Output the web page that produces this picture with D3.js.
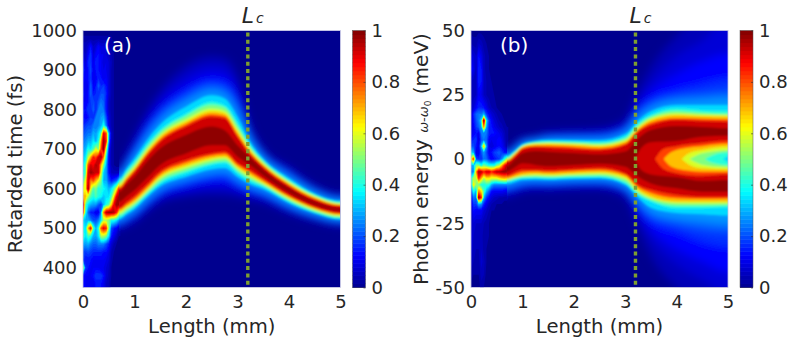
<!DOCTYPE html>
<html lang="en">
<head>
<meta charset="utf-8">
<title>Retarded time and photon energy maps</title>
<script src="https://cdn.jsdelivr.net/npm/d3@7"></script>
<style>
  html, body { margin: 0; padding: 0; background: #fff; }
  text { font-family: "DejaVu Sans", sans-serif; fill: #262626; }
  .axis path, .axis line { display: none; }
  .axis text { font-size: 18px; fill: #262626; }
  .cbar line { display: inline; stroke: #333; stroke-width: .6; }
</style>
</head>
<body>
<script>
// iso-intensity levels, outer edge of the band to its core
var levels = [.03, .06, .1, .15, .2, .25, .3, .375, .45, .55, .625, .75, .875, .97];

// panel (a): band edges in fs for each column, one value per level
var aLengths = [.7, .85, 1, 1.25, 1.5, 2, 2.5, 2.75, 3, 3.25, 3.5, 4, 4.5, 5];
var aUpper = [
  [652,645,640,635,632,629,626,622,617,612,607,603,600,592],
  [693,683,673,666,661,656,652,645,640,634,629,625,621,611],
  [734,720,706,697,690,683,677,668,663,656,651,647,643,630],
  [800,781,763,751,741,732,724,712,707,700,695,690,685,670],
  [849,828,807,793,782,772,762,748,743,736,731,725,719,702],
  [912,887,861,844,831,819,807,790,784,775,769,763,757,736],
  [936,912,888,871,859,847,836,820,812,802,795,788,782,757],
  [932,907,882,865,851,839,828,811,805,796,790,784,778,748],
  [886,861,836,819,805,793,782,765,759,750,744,737,731,710],
  [764,753,742,734,728,723,718,710,705,700,695,691,687,678],
  [703,697,690,686,682,679,676,672,669,664,661,658,655,647],
  [657,650,642,637,634,630,627,622,619,616,613,610,607,601],
  [609,604,599,596,593,591,588,585,583,580,578,575,573,567],
  [587,583,579,576,574,572,570,567,565,562,560,558,556,550]
];
var aLower = [
  [495,503,508,513,516,519,522,527,532,537,542,546,550,567],
  [504,512,519,524,528,532,535,540,544,550,554,559,565,581],
  [513,522,530,536,540,544,548,554,558,563,567,573,580,596],
  [541,550,559,565,570,575,579,585,589,594,598,604,611,628],
  [563,573,584,591,596,601,606,613,618,625,630,636,643,660],
  [578,591,603,612,619,625,630,639,645,652,658,665,672,689],
  [583,599,615,626,634,642,649,660,665,672,677,683,689,710],
  [582,599,616,628,637,645,652,664,669,676,681,687,693,710],
  [578,591,603,612,619,625,630,639,644,650,654,659,664,681],
  [570,580,590,597,602,607,611,618,623,629,634,640,646,659],
  [564,573,581,587,591,595,599,605,608,612,615,620,624,633],
  [537,543,550,554,557,560,563,567,570,574,577,580,583,590],
  [517,522,527,530,532,535,537,540,542,546,548,551,553,559],
  [505,509,513,516,518,520,522,525,527,531,533,536,538,544]
];

// panel (a): the noisy start of the propagation, intensity in percent
var noiseLengths = [0, .05, .1, .15, .2, .25, .3, .35, .4, .45, .5, .55, .6, .65, .7];
var aNoiseTimes = [1000,980,960,940,920,900,880,860,840,820,800,780,760,740,720,700,680,660,640,620,600,580,560,540,520,500,480,460,440,420,400,380,360,340];
var aNoise = [
  [0,0,0,0,0,0,0,0,0,0,0,0,0,0,0],
  [3,3,3,3,3,3,3,3,3,3,3,3,0,0,0],
  [5,5,8,14,6,8,12,8,8,8,5,3,2,0,0],
  [8,6,12,18,8,12,14,10,10,8,6,4,2,1,0],
  [14,8,16,18,10,16,14,12,8,10,8,5,2,1,0],
  [18,10,14,20,10,14,14,12,10,10,8,4,2,1,0],
  [14,12,14,18,10,12,16,14,10,12,8,4,2,1,0],
  [12,10,12,22,12,14,22,16,18,14,8,4,2,1,0],
  [16,10,14,22,14,16,16,20,20,16,8,4,2,1,0],
  [12,12,14,18,20,16,20,24,22,14,6,3,2,1,0],
  [14,14,18,16,22,16,24,24,24,14,6,3,2,1,0],
  [14,12,14,18,16,24,24,28,30,20,8,4,2,1,0],
  [16,18,20,20,24,24,26,30,40,25,10,4,2,1,0],
  [20,22,24,24,30,28,34,45,90,80,30,6,2,1,0],
  [24,26,30,30,36,30,40,70,98,85,25,5,2,1,0],
  [28,30,40,36,45,60,50,80,100,55,15,4,2,1,0],
  [32,36,55,70,85,80,92,97,75,38,12,4,2,1,0],
  [35,45,80,92,88,96,92,70,50,30,12,4,2,1,1],
  [38,45,90,98,95,92,92,60,32,28,14,6,5,5,5],
  [45,60,92,75,80,70,60,50,30,30,20,15,18,22,37],
  [60,60,98,60,45,50,40,42,38,35,30,35,45,60,85],
  [70,70,55,45,40,45,40,38,32,35,35,45,65,90,98],
  [95,45,35,30,28,28,22,18,30,40,45,65,88,98,97],
  [85,40,22,15,15,10,10,25,75,95,98,98,95,85,62],
  [35,30,30,25,20,20,25,35,55,55,50,40,40,35,27],
  [40,35,70,90,45,30,40,80,90,85,50,20,15,12,6],
  [45,35,45,40,30,28,35,55,55,50,35,15,10,6,2],
  [30,28,30,25,22,22,25,25,25,20,15,8,4,2,1],
  [20,18,20,18,16,16,16,16,14,14,10,4,2,1,0],
  [18,14,14,14,12,12,12,12,12,10,8,3,1,0,0],
  [55,18,14,12,12,12,12,10,10,8,6,2,0,0,0],
  [14,12,12,12,14,18,18,18,14,8,5,2,0,0,0],
  [14,12,10,10,10,14,14,14,10,6,4,1,0,0,0],
  [14,12,10,10,10,14,14,14,10,6,4,1,0,0,0]
];

// panel (b): band edges in meV for each column, one value per level
var bLengths = [.7, .85, 1, 1.25, 1.5, 2, 2.5, 3, 3.25, 3.5, 4, 4.5, 5];
var bUpper = [
  [3.8,3.2,2.6,2.2,1.9,1.6,1.3,.9,.5,0,-.4,-.7,-1,-2.7],
  [6,5.4,4.7,4.2,3.9,3.6,3.3,2.8,2.6,2.2,2,1.5,1,-.3],
  [8.5,7.9,7.2,6.8,6.4,6.1,5.8,5.4,5.2,5,4.8,4.3,3.8,2.2],
  [9.1,8.6,8.1,7.8,7.5,7.3,7,6.7,6.4,6,5.7,5.2,4.8,3.1],
  [10.6,9.9,9.1,8.6,8.2,7.8,7.5,7,6.6,6.2,5.8,5.2,4.5,2.8],
  [11.3,10.3,9.4,8.8,8.3,7.9,7.4,6.8,6.4,5.9,5.5,4.8,4,2.3],
  [11.9,10.8,9.7,8.9,8.3,7.8,7.3,6.5,6,5.4,5,4.2,3.5,1.8],
  [16,13.5,12.3,11.5,10.9,10.3,9.7,8.7,8.1,7.4,6.8,6.1,5.4,2.9],
  [27,23,20.5,18.5,17.2,16,15,13.9,13.2,12.4,11.9,11.2,10.6,8],
  [36,30,26,23,21,19.8,18.6,17,16.5,15.8,15.2,14.2,13.2,11.3],
  [48,40,33,26.5,24,22.5,21,19.7,18.7,17.7,17.1,16,15.2,12.8],
  [56,46,38,29,25,23,21,19,18,17.2,16.7,15.7,14.8,12.5],
  [64,54,41,31,26,23.5,21,18.8,17.6,17,16.5,15.5,14.5,12]
];
var bLower = [
  [-15,-13.7,-12.4,-11.6,-10.9,-10.3,-9.7,-8.8,-8.5,-8.1,-7.8,-7.1,-6.5,-4.9],
  [-14,-12.8,-11.6,-10.7,-10.1,-9.5,-9,-8.2,-7.8,-7.3,-7,-6.2,-5.3,-3.3],
  [-12.9,-11.8,-10.7,-9.9,-9.3,-8.7,-8.2,-7.5,-7.1,-6.6,-6.2,-5.3,-4.3,-1.7],
  [-12.2,-11.2,-10.2,-9.3,-8.9,-8.5,-8,-7.3,-6.9,-6.3,-5.8,-5,-4.3,-2.3],
  [-12.3,-11.3,-10.3,-9.6,-9.1,-8.6,-8.2,-7.5,-7.1,-6.5,-6,-5.3,-4.5,-2.8],
  [-11.8,-10.8,-9.9,-9.2,-8.7,-8.3,-7.8,-7.2,-6.7,-6.1,-5.6,-4.8,-4,-2.3],
  [-11.9,-10.8,-9.8,-9.1,-8.6,-8.1,-7.6,-7,-6.5,-5.8,-5.3,-4.4,-3.5,-1.8],
  [-15.5,-13.2,-12.2,-11.5,-11,-10.6,-10.1,-9.5,-8.9,-7.8,-7.1,-6.3,-5.6,-3],
  [-27,-23,-20,-18,-16.8,-15.8,-15,-14,-13.4,-12.6,-12,-11,-10.1,-6.9],
  [-38,-31,-27,-24,-22,-20.5,-19,-16.6,-16,-15.3,-14.7,-13.3,-12,-9.5],
  [-50,-41,-35,-28,-25,-23,-21,-19.2,-18.2,-17.2,-16.6,-15.3,-14,-11.4],
  [-58,-47,-40,-32,-27,-24,-21.5,-19.2,-18.2,-17.3,-16.6,-15.6,-14.7,-12.7],
  [-66,-52,-44,-34,-28,-25,-22,-18.8,-18,-17.2,-16.6,-15.5,-14.7,-12.7]
];

// panel (b): the dip that opens on the axis after the band splits
var holeLevels = [.97, .875, .75, .625, .55, .45, .375];
var holeLengths = [
  [3.2,3.3,3.5,4,4.5,5],
  [3.58,3.75,4,4.5,5],
  [3.75,3.9,4.25,4.5,5],
  [4.1,4.25,4.5,5],
  [4.25,4.4,4.7,5],
  [4.55,4.7,5],
  [4.9,4.97,5]
];
var holeUpper = [[0,4,6.5,7,8.7,9],[0,4,5,6.2,7.1],[0,2.7,4.5,5,5.9],[0,2.3,3.5,4.8],[0,1.6,2.9,3.5],[0,1.5,2.6],[0,.9,1.3]];
var holeLower = [[0,-4,-6,-7,-8.5,-8.2],[0,-4,-5.5,-6.5,-5.9],[0,-3,-4.6,-5,-5],[0,-2.3,-3.6,-4],[0,-1.6,-2.9,-3.2],[0,-1.5,-2.4],[0,-.9,-1.3]];

// panel (b): noisy start, intensity in percent
var bNoiseEnergies = [50,45,40,35,30,25,20,17.5,15,12.5,10,7.5,5,2.5,0,-2.5,-5,-7.5,-10,-12.5,-15,-17.5,-20,-25,-30,-35,-40,-45,-50];
var bNoise = [
  [1,1,1,1,1,1,0,0,0,0,0,0,0,0,0],
  [4,3,3,6,5,3,2,1,0,0,0,0,0,0,0],
  [10,8,6,14,10,5,3,2,1,0,0,0,0,0,0],
  [14,10,5,16,14,5,3,2,1,1,0,0,0,0,0],
  [5,5,5,16,14,6,4,2,2,1,1,0,0,0,0],
  [5,5,6,12,10,6,4,3,2,2,1,1,0,0,0],
  [6,8,12,16,16,14,10,6,4,3,2,1,1,0,0],
  [8,16,22,24,24,30,18,12,8,6,4,3,2,1,0],
  [8,14,20,25,35,100,35,18,12,8,6,4,3,2,1],
  [8,12,18,22,28,75,28,16,14,10,8,6,5,3,2],
  [10,12,14,10,24,26,24,16,14,14,12,10,8,5,2],
  [14,16,18,8,20,24,22,12,10,10,12,14,10,6,2],
  [20,20,14,10,30,70,28,10,8,10,12,14,12,8,3],
  [35,30,10,10,20,28,20,12,14,18,20,22,18,14,12],
  [60,85,20,16,16,24,22,16,12,14,16,18,26,40,55],
  [30,30,50,50,40,50,45,40,40,40,50,55,70,85,95],
  [25,25,70,97,94,85,92,92,85,90,95,95,97,98,97],
  [40,55,55,85,70,55,65,65,60,60,60,65,68,70,68],
  [30,65,50,50,40,40,42,40,30,25,25,25,25,25,25],
  [20,40,30,75,65,45,30,22,14,12,12,12,12,11,10],
  [12,25,22,100,85,30,18,12,8,6,5,4,4,3,3],
  [8,18,18,30,28,16,10,6,4,3,2,2,2,1,1],
  [6,14,12,12,12,8,6,4,2,2,1,1,0,0,0],
  [6,8,6,6,6,4,3,2,1,1,0,0,0,0,0],
  [10,6,5,4,5,3,3,2,1,0,0,0,0,0,0],
  [8,5,4,4,6,3,2,1,0,0,0,0,0,0,0],
  [6,4,3,3,7,5,2,1,0,0,0,0,0,0,0],
  [3,2,2,2,5,4,1,0,0,0,0,0,0,0,0],
  [1,1,1,1,3,2,0,0,0,0,0,0,0,0,0]
];

var lengthTicks = [0, 1, 2, 3, 4, 5];
var timeTicks = [400, 500, 600, 700, 800, 900, 1000];
var energyTicks = [-50, -25, 0, 25, 50];
var colorTicks = [0, .2, .4, .6, .8, 1];
var criticalLength = 3.2;

var w = 789, h = 345;
var top_ = 30.5, bottom = 287.5;

// MATLAB jet
var jet = d3.scaleLinear()
  .domain([0, .125, .375, .625, .875, 1])
  .range(["#00008f", "#0000ff", "#00ffff", "#ffff00", "#ff0000", "#800000"])
  .clamp(true);

var svg = d3.select("body").append("svg")
  .attr("width", w)
  .attr("height", h)
  .style("display", "block");

var defs = svg.append("defs");

function plainNumber(d) { return String(d); }

function drawPanel(id, left, right, yDomain, yTicks, band, noise, holes) {
  var x = d3.scaleLinear().domain([0, 5]).range([left, right]);
  var y = d3.scaleLinear().domain(yDomain).range([bottom, top_]);

  defs.append("clipPath").attr("id", "clip" + id).append("rect")
    .attr("x", left).attr("y", top_)
    .attr("width", right - left).attr("height", bottom - top_);

  // the band takes over from the noise matrix at its first column
  defs.append("clipPath").attr("id", "bandClip" + id).append("rect")
    .attr("x", x(band.lengths[0])).attr("y", top_)
    .attr("width", right - x(band.lengths[0])).attr("height", bottom - top_);

  // blur hides the steps between the filled levels, more in the faint tails
  function softGroup(parent, name, amount) {
    defs.append("filter").attr("id", name + id)
      .attr("filterUnits", "userSpaceOnUse")
      .attr("x", left - 20).attr("y", top_ - 20)
      .attr("width", right - left + 40).attr("height", bottom - top_ + 40)
      .append("feGaussianBlur")
      .attr("stdDeviation", amount);
    return parent.append("g").attr("filter", "url(#" + name + id + ")");
  }

  var map = svg.append("g").attr("clip-path", "url(#clip" + id + ")");

  map.append("rect")
    .attr("x", left).attr("y", top_)
    .attr("width", right - left).attr("height", bottom - top_)
    .attr("fill", jet(0));

  var speckle = softGroup(map, "speckle", .5);
  var bandArea = map.append("g").attr("clip-path", "url(#bandClip" + id + ")");
  var tails = softGroup(bandArea, "tails", 4);
  var core = softGroup(bandArea, "core", 1.2);

  // the outer edges are held flat past both ends so the blur does not fade there
  var n = band.lengths.length;
  var cols = [band.lengths[0] - .2].concat(band.lengths, [5.4]);
  function col(k) { return Math.max(0, Math.min(n - 1, k - 1)); }

  // nested band levels
  levels.forEach(function(level, i) {
    var next = i + 1 < levels.length ? levels[i + 1] : 1;
    var area = d3.area()
      .x(function(d) { return x(d); })
      .y0(function(d, k) { return y(band.lower[col(k)][i]); })
      .y1(function(d, k) { return y(band.upper[col(k)][i]); })
      .curve(d3.curveMonotoneX);
    (level < .28 ? tails : core).append("path")
      .attr("d", area(cols))
      .attr("fill", jet((level + next) / 2));
  });

  // dip in the band, painted from the high levels down
  if (holes) {
    holes.levels.forEach(function(level, i) {
      var next = i + 1 < holes.levels.length ? holes.levels[i + 1] : .3;
      var last = holes.lengths[i].length - 1;
      var area = d3.area()
        .x(function(d) { return x(d); })
        .y0(function(d, k) { return y(holes.lower[i][Math.min(k, last)]); })
        .y1(function(d, k) { return y(holes.upper[i][Math.min(k, last)]); })
        .curve(d3.curveMonotoneX);
      core.append("path")
        .attr("d", area(holes.lengths[i].concat([5.4])))
        .attr("fill", jet((level + next) / 2));
    });
  }

  // noisy part as filled contours of the matrix
  var nx = noise.lengths.length, ny = noise.rows.length;
  var colScale = d3.scaleLinear().domain(d3.range(nx)).range(noise.lengths);
  var rowScale = d3.scaleLinear().domain(d3.range(ny)).range(noise.ys);
  var path = d3.geoPath(d3.geoTransform({
    point: function(gx, gy) {
      this.stream.point(x(colScale(gx - .5)), y(rowScale(gy - .5)));
    }
  }));
  var steps = d3.range(.02, 1, .02);
  var contours = d3.contours().size([nx, ny]).thresholds(steps)(
    d3.merge(noise.rows).map(function(v) { return v / 100; })
  );
  speckle.selectAll("path.noise").data(contours).enter().append("path")
    .attr("class", "noise")
    .attr("d", path)
    .attr("fill", function(d) { return jet(d.value + .01); });

  // frame
  svg.append("rect")
    .attr("x", left).attr("y", top_)
    .attr("width", right - left).attr("height", bottom - top_)
    .attr("fill", "none")
    .attr("stroke", "#c4c4e4")
    .attr("stroke-width", .8);

  // critical length marker
  svg.append("line")
    .attr("x1", x(criticalLength)).attr("x2", x(criticalLength))
    .attr("y1", y.range()[1] + 2).attr("y2", y.range()[0])
    .attr("stroke", "#7f9f30")
    .attr("stroke-width", 3.4)
    .attr("stroke-dasharray", "4 3.3");

  var lc = svg.append("text")
    .attr("x", x(criticalLength) - 6)
    .attr("y", 23)
    .style("font-style", "italic");
  lc.append("tspan").style("font-size", "22px").text("L");
  lc.append("tspan").style("font-size", "14px").attr("dx", 2).text("c");

  svg.append("g").attr("class", "axis")
    .attr("transform", "translate(0," + bottom + ")")
    .call(d3.axisBottom(x).tickValues(lengthTicks).tickSize(0).tickPadding(8).tickFormat(plainNumber));

  svg.append("g").attr("class", "axis")
    .attr("transform", "translate(" + left + ",0)")
    .call(d3.axisLeft(y).tickValues(yTicks).tickSize(0).tickPadding(6).tickFormat(plainNumber));

  svg.append("text")
    .attr("x", (left + right) / 2)
    .attr("y", 333)
    .attr("text-anchor", "middle")
    .style("font-size", "19.6px")
    .text("Length (mm)");

  // colour bar
  var cLeft = right + 12, cRight = cLeft + 13;
  var c = d3.scaleLinear().domain([0, 1]).range([bottom, top_]);
  var cells = d3.range(64);
  svg.append("g").selectAll("rect").data(cells).enter().append("rect")
    .attr("x", cLeft)
    .attr("width", cRight - cLeft)
    .attr("y", function(d) { return c((d + 1) / 64); })
    .attr("height", function(d) { return c(d / 64) - c((d + 1) / 64) + .5; })
    .attr("fill", function(d) { return jet((d + .5) / 64); });
  svg.append("rect")
    .attr("x", cLeft).attr("y", top_)
    .attr("width", cRight - cLeft).attr("height", bottom - top_)
    .attr("fill", "none").attr("stroke", "#555").attr("stroke-width", .5);
  svg.append("g").attr("class", "axis cbar")
    .attr("transform", "translate(" + cRight + ",0)")
    .call(d3.axisRight(c).tickValues(colorTicks).tickSize(-2).tickPadding(6).tickFormat(plainNumber));

  return x;
}

drawPanel("A", 83, 340.5, [350, 1000], timeTicks,
  { lengths: aLengths, upper: aUpper, lower: aLower },
  { lengths: noiseLengths, ys: aNoiseTimes, rows: aNoise });

drawPanel("B", 471, 728, [-50, 50], energyTicks,
  { lengths: bLengths, upper: bUpper, lower: bLower },
  { lengths: noiseLengths, ys: bNoiseEnergies, rows: bNoise },
  { levels: holeLevels, lengths: holeLengths, upper: holeUpper, lower: holeLower });

svg.append("text")
  .attr("transform", "translate(22,164) rotate(-90)")
  .attr("text-anchor", "middle")
  .style("font-size", "19.6px")
  .text("Retarded time (fs)");

var ylabel = svg.append("text")
  .attr("transform", "translate(428,159) rotate(-90)")
  .attr("text-anchor", "middle")
  .style("font-size", "20px");
ylabel.append("tspan").text("Photon energy ");
ylabel.append("tspan").style("font-size", "13px").style("font-style", "italic").text("\u03c9");
ylabel.append("tspan").style("font-size", "13px").text("-");
ylabel.append("tspan").style("font-size", "13px").style("font-style", "italic").text("\u03c9");
ylabel.append("tspan").style("font-size", "9px").attr("dy", 3).text("0");
ylabel.append("tspan").attr("dy", -3).text(" (meV)");

svg.append("text").attr("x", 104).attr("y", 52)
  .style("fill", "#fff").style("font-size", "20px").text("(a)");
svg.append("text").attr("x", 500).attr("y", 52)
  .style("fill", "#fff").style("font-size", "20px").text("(b)");
</script>
</body>
</html>
